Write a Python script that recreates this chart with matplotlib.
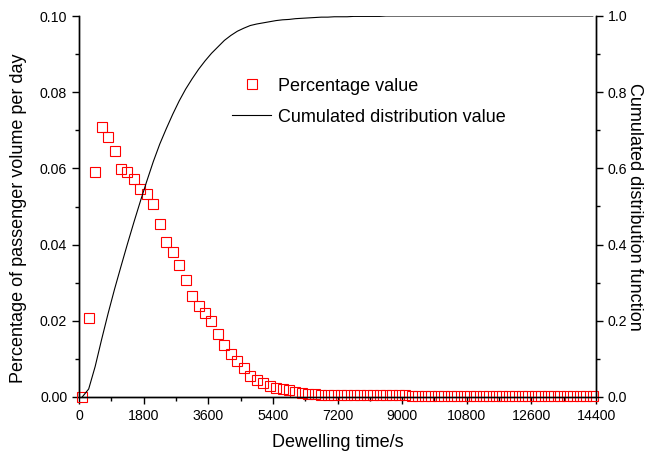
import matplotlib
matplotlib.use("Agg")
import matplotlib.pyplot as plt
from matplotlib.ticker import MultipleLocator, FormatStrFormatter
from matplotlib.lines import Line2D

plt.rcParams['font.family'] = ['Liberation Sans', 'DejaVu Sans']

# dwelling time (bin centres, s)
time_s = [90 + 180 * i for i in range(80)]

# percentage of passenger volume per day
percentage = [
    0.0000, 0.0207, 0.0591, 0.0708, 0.0682, 0.0645, 0.0599, 0.0590, 0.0572, 0.0547,
    0.0533, 0.0507, 0.0455, 0.0406, 0.0380, 0.0346, 0.0306, 0.0266, 0.0240, 0.0220,
    0.0199, 0.0165, 0.0137, 0.0114, 0.0095, 0.0075, 0.0055, 0.0044, 0.0036, 0.0030,
    0.0024, 0.0020, 0.0018, 0.0014, 0.0011, 0.0008, 0.0007, 0.0006, 0.0005, 0.0004,
    0.0004, 0.0004, 0.0004, 0.0004, 0.0004, 0.0004, 0.0004, 0.0004, 0.0004, 0.0004,
    0.0004, 0.0003, 0.0003, 0.0003, 0.0003, 0.0003, 0.0003, 0.0003, 0.0003, 0.0003,
    0.0003, 0.0003, 0.0003, 0.0003, 0.0003, 0.0003, 0.0002, 0.0002, 0.0002, 0.0002,
    0.0002, 0.0002, 0.0002, 0.0002, 0.0002, 0.0002, 0.0002, 0.0002, 0.0002, 0.0002,
]

# cumulated distribution value
cdf = [
    0.000, 0.021, 0.080, 0.151, 0.219, 0.283, 0.343, 0.402, 0.459, 0.514,
    0.567, 0.618, 0.664, 0.704, 0.742, 0.777, 0.808, 0.835, 0.860, 0.882,
    0.902, 0.919, 0.936, 0.949, 0.960, 0.968, 0.975, 0.979, 0.982, 0.985,
    0.988, 0.990, 0.991, 0.993, 0.994, 0.995, 0.996, 0.997, 0.997, 0.998,
    0.998, 0.998, 0.999, 0.999, 0.999, 0.999, 0.999, 1.000, 1.000, 1.000,
    1.000, 1.000, 1.000, 1.000, 1.000, 1.000, 1.000, 1.000, 1.000, 1.000,
    1.000, 1.000, 1.000, 1.000, 1.000, 1.000, 1.000, 1.000, 1.000, 1.000,
    1.000, 1.000, 1.000, 1.000, 1.000, 1.000, 1.000, 1.000, 1.000, 1.000,
]

fig = plt.figure(figsize=(6.48, 4.57), dpi=100)
ax = fig.add_axes([79 / 648, 1 - 397 / 457, (596 - 79) / 648, (397 - 16) / 457])
ax2 = ax.twinx()

ax.plot(time_s, percentage, linestyle='none', marker='s', markersize=6.8,
        markerfacecolor='none', markeredgecolor='red', markeredgewidth=0.8,
        clip_on=False, zorder=3)
ax2.plot(time_s, cdf, color='black', linewidth=0.8)

ax.set_xlim(0, 14400)
ax.set_ylim(0, 0.10)
ax2.set_ylim(0, 1.0)

ax.xaxis.set_major_locator(MultipleLocator(1800))
ax.xaxis.set_minor_locator(MultipleLocator(900))
ax.yaxis.set_major_locator(MultipleLocator(0.02))
ax.yaxis.set_minor_locator(MultipleLocator(0.01))
ax.yaxis.set_major_formatter(FormatStrFormatter('%.2f'))
ax2.yaxis.set_major_locator(MultipleLocator(0.2))
ax2.yaxis.set_minor_locator(MultipleLocator(0.1))
ax2.yaxis.set_major_formatter(FormatStrFormatter('%.1f'))

for a in (ax, ax2):
    a.spines['top'].set_visible(False)
    for s in a.spines.values():
        s.set_linewidth(1.0)
    a.tick_params(which='major', direction='out', length=5, width=1.0, labelsize=10.2)
    a.tick_params(which='minor', direction='out', length=3, width=1.0)

ax.set_xlabel('Dewelling time/s', fontsize=13, labelpad=8)
ax.set_ylabel('Percentage of passenger volume per day', fontsize=13)
ax.yaxis.set_label_coords(-0.1006, 0.47)
ax2.set_ylabel('Cumulated distribution function', fontsize=13, rotation=270, labelpad=11)

handles = [
    Line2D([], [], linestyle='none', marker='s', markersize=6.8, markerfacecolor='none',
           markeredgecolor='red', markeredgewidth=0.8),
    Line2D([], [], color='black', linewidth=0.8),
]
ax2.legend(handles, ['Percentage value', 'Cumulated distribution value'],
           loc='upper left', bbox_to_anchor=(219 / 648, 1 - 65 / 457),
           bbox_transform=fig.transFigure, frameon=False, fontsize=13,
           handlelength=2.2, handletextpad=0.35, labelspacing=0.78, borderpad=0.2)

fig.savefig('out.png', dpi=100)
